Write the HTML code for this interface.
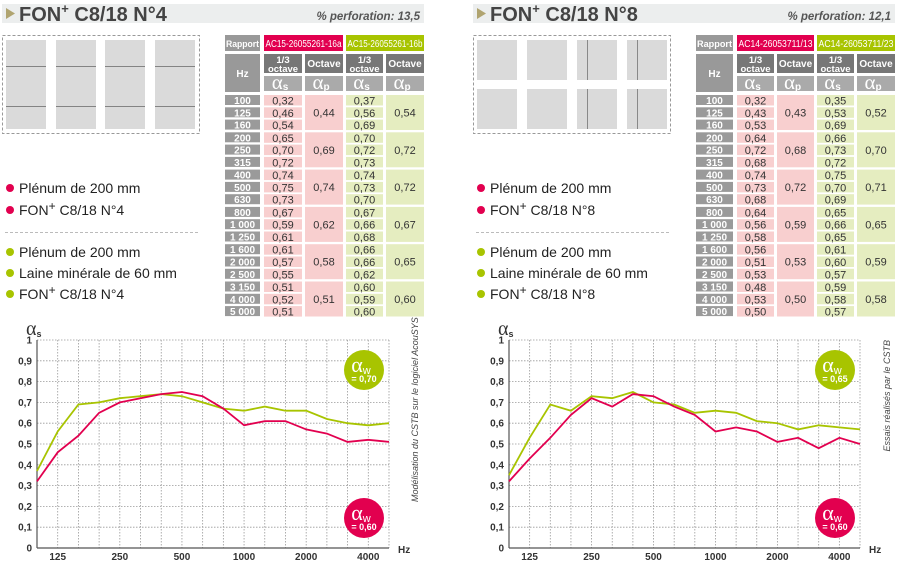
<!DOCTYPE html>
<html><head><meta charset="utf-8"><style>
html,body{margin:0;padding:0;background:#fff;width:903px;height:564px;overflow:hidden}
svg{display:block;font-family:"Liberation Sans",sans-serif}
</style></head><body>
<svg id="s" width="903" height="564" viewBox="0 0 903 564" xmlns="http://www.w3.org/2000/svg"></svg>
<script>
const R='#e2004f',G='#a8c400';
let o='';
const panels=[
 {x:0,title:'FON',num:'4',perf:'% perforation: 13,5',ra:'AC15-26055261-16a',rb:'AC15-26055261-16b',
  red:[.32,.46,.54,.65,.70,.72,.74,.75,.73,.67,.59,.61,.61,.57,.55,.51,.52,.51],
  grn:[.37,.56,.69,.70,.72,.73,.74,.73,.70,.67,.66,.68,.66,.66,.62,.60,.59,.60],
  ored:[.44,.69,.74,.62,.58,.51],ogrn:[.54,.72,.72,.67,.65,.60],
  cols:[225,264,305,346,386,424],ax:37,ar:389,gw:'0,70',side:'Modélisation du CSTB sur le logiciel AcouSYS',sx:418,eight:false},
 {x:471,title:'FON',num:'8',perf:'% perforation: 12,1',ra:'AC14-26053711/13',rb:'AC14-26053711/23',
  red:[.32,.43,.53,.64,.72,.68,.74,.73,.68,.64,.56,.58,.56,.51,.53,.48,.53,.50],
  grn:[.35,.53,.69,.66,.73,.72,.75,.70,.69,.65,.66,.65,.61,.60,.57,.59,.58,.57],
  ored:[.43,.68,.72,.59,.53,.50],ogrn:[.52,.70,.71,.65,.59,.58],
  cols:[696,737,777,817,857,895],ax:509,ar:860,gw:'0,65',side:'Essais réalisés par le CSTB',sx:890,eight:true}
];
const hz=['100','125','160','200','250','315','400','500','630','800','1000','1250','1600','2000','2500','3150','4000','5000'];
const f=v=>v.toFixed(2).replace('.',',');
panels.forEach(p=>{
 const X=p.x;
 o+=`<rect x="${X+2}" y="4" width="422" height="19" fill="#eceeee"/>`;
 o+=`<polygon points="${X+6},8 ${X+15},13.5 ${X+6},19" fill="#b0a470"/>`;
 o+=`<text x="${X+19}" y="21" font-size="20" font-weight="bold" fill="#444">FON<tspan font-size="13" dy="-8">+</tspan><tspan dy="8"> C8/18 N°${p.num}</tspan></text>`;
 o+=`<text x="${X+420}" y="20" font-size="11.5" font-weight="bold" font-style="italic" fill="#555" text-anchor="end">${p.perf}</text>`;
 o+=`<rect x="${X+2.5}" y="35.5" width="197" height="98" fill="none" stroke="#999" stroke-dasharray="3,2"/>`;
 if(!p.eight){
  [6,56,105,155].forEach(px=>{o+=`<rect x="${X+px}" y="40" width="40" height="89" fill="#dadada"/>`;
   o+=`<line x1="${X+px}" x2="${X+px+40}" y1="66.5" y2="66.5" stroke="#666" stroke-width=".7"/><line x1="${X+px}" x2="${X+px+40}" y1="106.5" y2="106.5" stroke="#666" stroke-width=".7"/>`;});
 } else {
  [[6,0],[56,0],[106,1],[156,1]].forEach(([px,l])=>[40,89].forEach(py=>{o+=`<rect x="${X+px}" y="${py}" width="40" height="40" fill="#dadada"/>`;
   if(l)o+=`<line x1="${X+px+10.5}" x2="${X+px+10.5}" y1="${py}" y2="${py+40}" stroke="#666" stroke-width=".7"/>`;}));
 }
 const L=[[R,'Plénum de 200 mm',193],[R,null,215],[G,'Plénum de 200 mm',257],[G,'Laine minérale de 60 mm',278],[G,null,299]];
 L.forEach(([c,t,y])=>{o+=`<circle cx="${X+10}" cy="${y-5}" r="4" fill="${c}"/>`;
  o+= t?`<text x="${X+19}" y="${y}" font-size="14" fill="#222">${t}</text>`:
  `<text x="${X+19}" y="${y}" font-size="14" fill="#222">FON<tspan font-size="12" dy="-5">+</tspan><tspan dy="5"> C8/18 N°${p.num}</tspan></text>`;});
 o+=`<line x1="${X+5}" x2="${X+200}" y1="232.5" y2="232.5" stroke="#bbb" stroke-dasharray="3,2"/>`;
 const c=p.cols;
 const w=[c[1]-c[0]-4,c[2]-c[1]-3,c[3]-c[2]-3,c[4]-c[3]-3,c[5]-c[4]];
 o+=`<rect x="${c[0]}" y="35" width="${w[0]}" height="16" fill="#999"/><text x="${c[0]+w[0]/2}" y="47" font-size="9.5" font-weight="bold" fill="#fff" text-anchor="middle" textLength="${w[0]-2}" lengthAdjust="spacingAndGlyphs">Rapport</text>`;
 o+=`<rect x="${c[1]}" y="35" width="${c[3]-c[1]-3}" height="16" fill="${R}"/><text x="${c[1]+1.5}" y="47" font-size="10" fill="#fff" textLength="${c[3]-c[1]-6}" lengthAdjust="spacingAndGlyphs">${p.ra}</text>`;
 o+=`<rect x="${c[3]}" y="35" width="${c[5]-c[3]}" height="16" fill="${G}"/><text x="${c[3]+1.5}" y="47" font-size="10" fill="#fff" textLength="${c[5]-c[3]-3}" lengthAdjust="spacingAndGlyphs">${p.rb}</text>`;
 o+=`<rect x="${c[0]}" y="54" width="${w[0]}" height="38" fill="#999"/><text x="${c[0]+w[0]/2}" y="77" font-size="10" font-weight="bold" fill="#fff" text-anchor="middle">Hz</text>`;
 for(let i=1;i<5;i++){const oc=i%2==0;
  o+=`<rect x="${c[i]}" y="54" width="${w[i]}" height="19" fill="#777"/>`;
  o+= oc?`<text x="${c[i]+w[i]/2}" y="67" font-size="10" font-weight="bold" fill="#fff" text-anchor="middle">Octave</text>`:
   `<text x="${c[i]+w[i]/2}" y="63" font-size="9.5" font-weight="bold" fill="#fff" text-anchor="middle">1/3</text><text x="${c[i]+w[i]/2}" y="72" font-size="9.5" font-weight="bold" fill="#fff" text-anchor="middle">octave</text>`;
  o+=`<rect x="${c[i]}" y="76" width="${w[i]}" height="15" fill="#aaa"/><text x="${c[i]+w[i]/2-3}" y="89" font-size="21" fill="#fff" text-anchor="middle" font-family="Liberation Serif,serif">α<tspan font-size="10" font-weight="bold" font-family="Liberation Sans,sans-serif" dy="1">${oc?'p':'s'}</tspan></text>`;
 }
 for(let g=0;g<6;g++){
  const gy=95+g*37.3;
  o+=`<rect x="${c[2]}" y="${gy}" width="${w[2]}" height="35" fill="#f8cfcf"/><text x="${c[2]+w[2]/2}" y="${gy+21.5}" font-size="11" fill="#333" text-anchor="middle">${f(p.ored[g])}</text>`;
  o+=`<rect x="${c[4]}" y="${gy}" width="${w[4]}" height="35" fill="#e5edc0"/><text x="${c[4]+w[4]/2}" y="${gy+21.5}" font-size="11" fill="#333" text-anchor="middle">${f(p.ogrn[g])}</text>`;
  for(let r=0;r<3;r++){const i=g*3+r,y=gy+r*12.3;
   o+=`<rect x="${c[0]}" y="${y}" width="${w[0]}" height="10" fill="#9a9a9a"/><text x="${c[0]+w[0]/2}" y="${y+9}" font-size="10" font-weight="bold" fill="#fff" text-anchor="middle">${hz[i].length==4?hz[i][0]+' '+hz[i].slice(1):hz[i]}</text>`;
   o+=`<rect x="${c[1]}" y="${y}" width="${w[1]}" height="10.5" fill="#f8cfcf"/><text x="${c[1]+w[1]/2}" y="${y+9.5}" font-size="11" fill="#333" text-anchor="middle">${f(p.red[i])}</text>`;
   o+=`<rect x="${c[3]}" y="${y}" width="${w[3]}" height="10.5" fill="#e5edc0"/><text x="${c[3]+w[3]/2}" y="${y+9.5}" font-size="11" fill="#333" text-anchor="middle">${f(p.grn[i])}</text>`;
  }
 }
 const ax=p.ax,ar=p.ar,top=340,bot=548,dx=(ar-ax)/17,Y=v=>bot-v*(bot-top);
 for(let k=1;k<=10;k++){o+=`<line x1="${ax}" x2="${ar}" y1="${Y(k/10)}" y2="${Y(k/10)}" stroke="#999" stroke-width=".8" stroke-dasharray="1.5,1.5"/>`;}
 for(let k=1;k<=17;k++){o+=`<line x1="${ax+k*dx}" x2="${ax+k*dx}" y1="${top}" y2="${bot}" stroke="#999" stroke-width=".8" stroke-dasharray="1.5,1.5"/>`;}
 o+=`<line x1="${ax}" x2="${ax}" y1="${top}" y2="${bot}" stroke="#555" stroke-width="1.2"/><line x1="${ax}" x2="${ar}" y1="${bot}" y2="${bot}" stroke="#555" stroke-width="1.2"/>`;
 for(let k=0;k<=10;k++){o+=`<text x="${ax-5}" y="${Y(k/10)+3.5}" font-size="10" font-weight="bold" fill="#333" text-anchor="end">${k==0?'0':k==10?'1':'0,'+k}</text>`;}
 [[1,'125'],[4,'250'],[7,'500'],[10,'1000'],[13,'2000'],[16,'4000']].forEach(([i,t])=>{o+=`<text x="${ax+i*dx}" y="560" font-size="10" font-weight="bold" fill="#333" text-anchor="middle">${t}</text>`;});
 o+=`<text x="${ar+9}" y="553" font-size="10" font-weight="bold" fill="#333">Hz</text>`;
 o+=`<text x="${ax-11}" y="335" font-size="20" fill="#333" font-family="Liberation Serif,serif">α<tspan font-size="9" font-weight="bold" font-family="Liberation Sans,sans-serif" dy="2">s</tspan></text>`;
 const pl=(d,col)=>`<polyline points="${d.map((v,i)=>(ax+i*dx).toFixed(1)+','+Y(v).toFixed(1)).join(' ')}" fill="none" stroke="${col}" stroke-width="1.8"/>`;
 o+=pl(p.grn,G)+pl(p.red,R);
 const cx=ar-25;
 [[G,370,p.gw],[R,518,'0,60']].forEach(([col,cy,t])=>{o+=`<circle cx="${cx}" cy="${cy}" r="20" fill="${col}"/><text x="${cx-3}" y="${cy+2}" font-size="22" fill="#fff" text-anchor="middle" font-family="Liberation Serif,serif">α<tspan font-size="11" font-family="Liberation Sans,sans-serif" dy="2">w</tspan></text><text x="${cx}" y="${cy+12}" font-size="9" font-weight="bold" fill="#fff" text-anchor="middle">= ${t}</text>`;});
 o+=`<text transform="translate(${p.sx},${p.x?340:502}) rotate(-90)" font-size="9" font-style="italic" fill="#444" text-anchor="${p.x?'end':'start'}">${p.side}</text>`;
});
document.getElementById('s').innerHTML=o;
</script>
</body></html>
